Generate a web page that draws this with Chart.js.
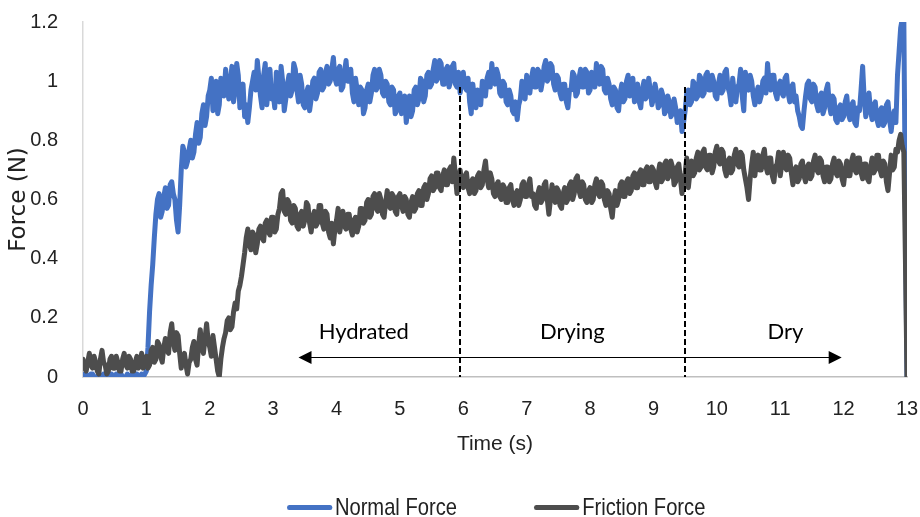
<!DOCTYPE html>
<html>
<head>
<meta charset="utf-8">
<script src="https://cdn.jsdelivr.net/npm/chart.js@4.4.1/dist/chart.umd.min.js"></script>
<style>
  body { margin: 0; background: #fff; }
  #wrap { position: relative; width: 920px; height: 517px; }
  #legend {
    position: absolute; left: 287px; top: 494px;
    display: flex; align-items: center;
    transform: scaleX(0.84); transform-origin: 0 50%;
    font-family: "Liberation Sans", Arial, sans-serif;
    font-size: 24px; line-height: 26px; color: #222; white-space: nowrap;
  }
  #legend .item { display: flex; align-items: center; margin-right: 92px; }
  #legend .swatch { width: 54px; height: 5px; border-radius: 3px; margin-right: 3px; }
</style>
</head>
<body>
<div id="wrap">
  <canvas id="forceChart" width="920" height="517"></canvas>
  <div id="legend"></div>
</div>
<script>
// sampled every 0.025 s, 0 .. 13 s (one row = 1 s)
const sampleStep = 0.025;

const normalForce = [
  0.00,0.01,0.01,0.00,0.00,0.01,0.01,0.00,0.00,0.00, 0.01,0.00,0.00,0.01,0.00,0.00,0.01,0.00,0.01,0.00,
  0.00,0.01,0.00,0.00,0.01,0.00,0.00,0.00,0.01,0.00, 0.00,0.01,0.00,0.00,0.01,0.00,0.00,0.01,0.00,0.01,
  0.02,0.10,0.22,0.31,0.38,0.47,0.55,0.60,0.62,0.54, 0.56,0.61,0.64,0.57,0.58,0.65,0.66,0.62,0.60,0.53,
  0.49,0.58,0.70,0.78,0.76,0.71,0.73,0.77,0.80,0.74, 0.76,0.82,0.86,0.79,0.81,0.89,0.92,0.85,0.88,0.95,
  0.97,1.01,0.90,0.95,1.00,0.89,0.92,1.01,0.99,0.95, 1.04,0.98,0.94,1.00,1.05,0.93,0.97,1.06,1.02,0.91,
  0.95,0.99,0.88,0.92,0.86,0.91,0.97,1.00,1.03,0.97, 1.07,1.01,0.95,0.91,1.02,1.06,0.92,0.98,1.04,0.94,
  0.96,0.91,1.03,0.98,0.93,1.05,1.00,0.90,0.94,0.99, 1.02,0.95,0.97,1.06,1.04,0.97,0.93,1.02,0.99,0.92,
  0.91,0.96,0.98,0.90,0.94,1.00,1.01,0.94,0.96,1.03, 1.04,0.97,0.98,1.03,1.05,0.99,1.00,1.04,1.08,1.01,
  0.99,1.04,1.05,0.97,0.98,1.03,1.07,1.00,1.00,1.04, 0.96,0.93,1.01,0.97,0.92,0.98,0.97,0.89,0.91,0.97,
  0.99,0.93,0.96,1.02,1.04,0.97,0.98,1.04,1.02,0.96, 0.95,1.00,0.99,0.93,0.92,0.98,0.97,0.89,0.90,0.95,
  0.96,0.89,0.91,0.95,0.86,0.91,0.95,0.88,0.90,0.97, 0.98,0.92,0.94,1.01,1.00,0.93,0.95,1.02,1.03,0.98,
  0.99,1.04,1.07,1.00,1.01,1.07,1.06,0.99,0.99,1.04, 1.05,0.98,1.00,1.05,1.06,0.99,0.98,1.03,0.96,1.00,
  1.03,0.98,0.97,1.01,0.93,0.89,0.99,0.94,0.91,0.97, 0.96,0.92,1.00,0.96,0.95,1.01,1.03,0.98,1.06,1.00,
  0.99,1.04,1.02,0.96,0.95,1.00,0.99,0.93,0.92,0.97, 0.95,0.90,0.89,0.93,0.87,0.92,0.94,1.00,0.98,0.94,
  1.02,0.97,0.96,1.01,1.04,0.98,0.98,1.04,1.03,0.97, 1.00,1.05,1.07,1.00,1.01,1.06,1.05,0.99,0.97,1.02,
  1.01,0.96,0.94,0.99,0.99,0.93,0.91,0.97,0.97,1.03, 1.02,0.95,0.96,1.01,1.04,0.98,0.98,1.04,1.03,0.96,
  0.97,1.03,1.02,0.98,1.06,1.01,0.99,1.05,1.04,0.97, 0.96,1.01,0.99,0.94,0.92,0.98,0.97,0.91,0.90,0.96,
  0.99,0.93,0.94,1.00,1.02,0.95,0.96,1.01,0.93,0.98, 0.99,0.93,0.91,0.97,1.00,0.94,0.95,1.01,0.97,0.92,
  0.94,0.99,0.96,0.91,0.92,0.97,0.95,0.89,0.90,0.95, 0.93,0.88,0.89,0.94,0.91,0.86,0.87,0.90,0.83,0.86,
  0.90,0.96,0.97,0.92,0.93,1.00,0.99,0.94,0.95,1.02, 1.01,0.95,0.96,1.02,1.03,0.97,0.97,1.02,1.00,0.95,
  0.94,0.99,1.02,0.96,0.97,1.03,1.04,0.98,0.96,0.92, 1.01,0.96,0.93,0.98,0.99,1.04,0.95,0.90,1.03,0.98,
  0.97,1.02,1.00,0.95,0.92,0.96,0.98,0.93,0.95,1.00, 1.01,0.96,1.06,0.99,0.97,1.02,1.02,0.96,0.94,0.99,
  1.00,0.96,0.95,1.01,1.02,0.96,0.93,0.98,0.99,0.93, 0.95,0.90,0.88,0.85,0.84,0.90,0.95,0.99,1.00,0.94,
  0.93,0.99,0.98,0.92,0.90,0.95,0.96,0.89,0.91,0.97, 0.99,0.92,0.89,0.95,0.94,0.87,0.86,0.91,0.92,0.87,
  0.88,0.93,0.95,0.89,0.87,0.92,0.93,0.86,0.85,0.91, 0.90,0.97,1.05,0.94,0.88,0.92,0.96,0.90,0.87,0.92,
  0.93,0.87,0.85,0.90,0.91,0.85,0.86,0.92,0.93,0.87, 0.83,0.88,0.90,0.86,1.02,1.10,1.18,1.21,1.21,0.55,
  0.00
];

const frictionForce = [
  0.06,0.03,0.02,0.05,0.08,0.04,0.03,0.07,0.05,0.02, 0.01,0.06,0.09,0.05,0.04,0.01,0.02,0.06,0.07,0.03,
  0.03,0.07,0.05,0.02,0.02,0.06,0.08,0.04,0.03,0.07, 0.06,0.02,0.02,0.05,0.07,0.03,0.04,0.08,0.03,0.06,
  0.07,0.03,0.04,0.09,0.10,0.05,0.06,0.12,0.11,0.07, 0.05,0.10,0.13,0.09,0.08,0.15,0.18,0.12,0.09,0.15,
  0.14,0.08,0.03,0.07,0.08,0.04,0.01,0.05,0.06,0.10, 0.12,0.06,0.04,0.11,0.16,0.10,0.08,0.13,0.18,0.12,
  0.10,0.07,0.14,0.10,0.06,0.02,0.00,0.06,0.10,0.13, 0.15,0.19,0.20,0.16,0.17,0.22,0.25,0.23,0.29,0.31,
  0.34,0.38,0.42,0.47,0.50,0.45,0.43,0.49,0.48,0.42, 0.45,0.50,0.51,0.47,0.46,0.52,0.53,0.49,0.48,0.54,
  0.54,0.49,0.50,0.55,0.57,0.62,0.63,0.56,0.55,0.60, 0.59,0.53,0.52,0.58,0.57,0.51,0.50,0.55,0.56,0.51,
  0.53,0.59,0.58,0.52,0.49,0.54,0.56,0.51,0.52,0.58, 0.58,0.52,0.50,0.56,0.55,0.49,0.47,0.52,0.45,0.50,
  0.53,0.57,0.49,0.52,0.56,0.51,0.50,0.55,0.55,0.50, 0.48,0.53,0.54,0.49,0.51,0.57,0.57,0.52,0.53,0.59,
  0.60,0.54,0.55,0.61,0.62,0.57,0.56,0.62,0.60,0.55, 0.54,0.59,0.63,0.58,0.57,0.62,0.61,0.56,0.55,0.61,
  0.62,0.58,0.56,0.61,0.60,0.55,0.54,0.59,0.61,0.56, 0.57,0.62,0.63,0.58,0.58,0.64,0.65,0.60,0.62,0.67,
  0.68,0.63,0.64,0.69,0.69,0.64,0.63,0.68,0.70,0.65, 0.65,0.70,0.71,0.66,0.74,0.68,0.62,0.66,0.70,0.65,
  0.64,0.68,0.69,0.64,0.62,0.66,0.67,0.62,0.63,0.68, 0.69,0.64,0.65,0.70,0.73,0.67,0.64,0.69,0.67,0.62,
  0.61,0.65,0.66,0.61,0.60,0.65,0.64,0.59,0.59,0.64, 0.65,0.60,0.58,0.62,0.63,0.58,0.60,0.65,0.66,0.61,
  0.61,0.65,0.67,0.61,0.62,0.58,0.57,0.62,0.64,0.59, 0.60,0.65,0.66,0.60,0.55,0.60,0.65,0.61,0.59,0.64,
  0.63,0.58,0.57,0.62,0.64,0.59,0.60,0.65,0.66,0.60, 0.62,0.67,0.68,0.63,0.61,0.66,0.65,0.60,0.59,0.63,
  0.64,0.59,0.60,0.65,0.67,0.62,0.61,0.66,0.65,0.60, 0.58,0.63,0.62,0.57,0.54,0.60,0.63,0.58,0.60,0.65,
  0.66,0.61,0.61,0.66,0.67,0.62,0.63,0.68,0.69,0.64, 0.64,0.69,0.70,0.65,0.65,0.70,0.71,0.66,0.66,0.71,
  0.70,0.66,0.64,0.69,0.72,0.66,0.67,0.72,0.73,0.67, 0.68,0.73,0.71,0.65,0.66,0.71,0.72,0.67,0.62,0.66,
  0.69,0.74,0.64,0.69,0.73,0.68,0.69,0.74,0.76,0.70, 0.71,0.76,0.77,0.71,0.70,0.75,0.75,0.69,0.71,0.76,
  0.78,0.73,0.72,0.77,0.76,0.70,0.68,0.73,0.74,0.69, 0.70,0.75,0.77,0.72,0.71,0.76,0.75,0.70,0.67,0.64,
  0.60,0.67,0.72,0.76,0.68,0.73,0.75,0.70,0.70,0.75, 0.77,0.71,0.69,0.74,0.74,0.68,0.66,0.71,0.72,0.76,
  0.68,0.72,0.76,0.71,0.70,0.75,0.74,0.69,0.65,0.70, 0.71,0.66,0.67,0.72,0.73,0.68,0.66,0.71,0.72,0.67,
  0.68,0.73,0.75,0.70,0.69,0.74,0.73,0.68,0.66,0.71, 0.71,0.66,0.67,0.72,0.74,0.69,0.68,0.73,0.72,0.67,
  0.65,0.70,0.73,0.68,0.68,0.73,0.75,0.70,0.69,0.74, 0.74,0.69,0.67,0.72,0.72,0.67,0.66,0.71,0.74,0.69,
  0.70,0.75,0.75,0.70,0.68,0.73,0.72,0.66,0.63,0.69, 0.75,0.70,0.71,0.77,0.76,0.80,0.82,0.78,0.76,0.40,
  0.00
];

// phase annotations (time in s, force in N)
const phaseBounds = [5.95, 9.5];
const phaseNames = ['Hydrated', 'Drying', 'Dry'];
const phaseNameAt = [4.43, 7.72, 11.08];
const arrowSpan = [3.4, 11.97];

const toPoints = arr => arr.map((v, i) => ({ x: +(i * sampleStep).toFixed(3), y: v }));

const labelFont = '"Liberation Sans", Arial, sans-serif';

// dashed phase lines, arrow and phase names
const phasePlugin = {
  id: 'phases',
  afterDatasetsDraw(chart) {
    const { ctx, scales: { x, y } } = chart;
    ctx.save();
    ctx.strokeStyle = '#000';
    ctx.lineWidth = 2;
    ctx.setLineDash([6, 3]);
    phaseBounds.forEach(t => {
      const px = Math.round(x.getPixelForValue(t));
      ctx.beginPath();
      ctx.moveTo(px, y.getPixelForValue(0.98));
      ctx.lineTo(px, y.getPixelForValue(0));
      ctx.stroke();
    });
    ctx.setLineDash([]);

    // double arrow
    const ay = Math.round(y.getPixelForValue(0.068)) + 0.5;
    const x1 = x.getPixelForValue(arrowSpan[0]);
    const x2 = x.getPixelForValue(arrowSpan[1]);
    ctx.lineWidth = 1.2;
    ctx.beginPath();
    ctx.moveTo(x1 + 8, ay);
    ctx.lineTo(x2 - 8, ay);
    ctx.stroke();
    ctx.fillStyle = '#000';
    ctx.beginPath();
    ctx.moveTo(x1, ay); ctx.lineTo(x1 + 13, ay - 6.5); ctx.lineTo(x1 + 13, ay + 6.5);
    ctx.closePath(); ctx.fill();
    ctx.beginPath();
    ctx.moveTo(x2, ay); ctx.lineTo(x2 - 13, ay - 6.5); ctx.lineTo(x2 - 13, ay + 6.5);
    ctx.closePath(); ctx.fill();

    ctx.font = '22px Lato, "Open Sans", sans-serif';
    ctx.textAlign = 'center';
    ctx.textBaseline = 'alphabetic';
    phaseNames.forEach((name, i) => {
      ctx.fillText(name, x.getPixelForValue(phaseNameAt[i]), y.getPixelForValue(0.128));
    });
    ctx.restore();
  }
};

const datasets = [
  {
    label: 'Friction Force',
    data: toPoints(frictionForce),
    borderColor: '#4d4d4d',
    backgroundColor: '#4d4d4d'
  },
  {
    label: 'Normal Force',
    data: toPoints(normalForce),
    borderColor: '#4472C4',
    backgroundColor: '#4472C4'
  }
];

const chart = new Chart(document.getElementById('forceChart').getContext('2d'), {
  type: 'line',
  data: { datasets },
  options: {
    responsive: false,
    animation: false,
    normalized: true,
    layout: { padding: { left: 0, top: 22, right: 13, bottom: 55 } },
    elements: {
      point: { radius: 0 },
      line: { borderWidth: 5, tension: 0, borderJoinStyle: 'round', borderCapStyle: 'round' }
    },
    plugins: {
      legend: { display: false },
      tooltip: { enabled: false }
    },
    scales: {
      x: {
        type: 'linear',
        min: 0,
        max: 13,
        afterFit: s => { s.height = 85; s.paddingLeft = 0; s.paddingRight = 0; },
        grid: { display: false },
        border: { display: true, color: '#bfbfbf', width: 1.5 },
        ticks: {
          stepSize: 1,
          padding: 12,
          color: '#222',
          font: { family: labelFont, size: 20 }
        },
        title: {
          display: true,
          text: 'Time (s)',
          color: '#222',
          padding: { top: 0, bottom: 5 },
          font: { family: labelFont, size: 21 }
        }
      },
      y: {
        min: 0,
        max: 1.2,
        afterFit: s => { s.width = 83; s.paddingTop = 0; s.paddingBottom = 0; },
        grid: { display: false },
        border: { display: true, color: '#d9d9d9', width: 1.5 },
        ticks: {
          stepSize: 0.2,
          padding: 17,
          color: '#222',
          font: { family: labelFont, size: 20 },
          callback: v => String(+v.toFixed(1))
        },
        title: {
          display: true,
          text: 'Force (N)',
          color: '#222',
          padding: { top: 5, bottom: 0 },
          font: { family: '"DejaVu Sans", sans-serif', size: 23 }
        }
      }
    }
  },
  plugins: [phasePlugin]
});

// legend in original order: Normal, then Friction
const legendEl = document.getElementById('legend');
datasets.slice().reverse().forEach(ds => {
  const item = document.createElement('div');
  item.className = 'item';
  const sw = document.createElement('span');
  sw.className = 'swatch';
  sw.style.background = ds.borderColor;
  const txt = document.createElement('span');
  txt.textContent = ds.label;
  item.appendChild(sw);
  item.appendChild(txt);
  legendEl.appendChild(item);
});
</script>
</body>
</html>
